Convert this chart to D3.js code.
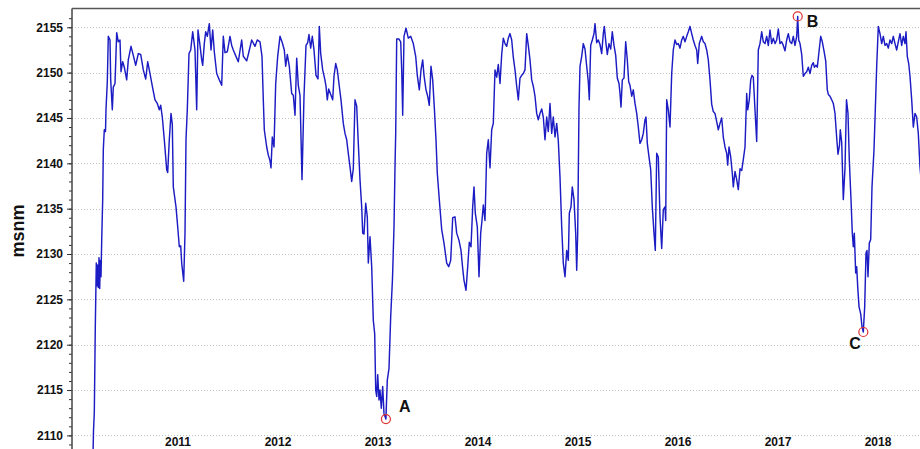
<!DOCTYPE html>
<html>
<head>
<meta charset="utf-8">
<script src="https://cdn.jsdelivr.net/npm/d3@7"></script>
<style>
  html, body { margin: 0; padding: 0; background: #fff; }
  svg { display: block; }
  text { font-family: "Liberation Sans", Arial, Helvetica, sans-serif; }
</style>
</head>
<body>
<svg id="chart" width="920" height="449"></svg>
<script>
// Nivel del embalse (msnm), tiempo en años decimales
const nivel2010 = [
  [2010.145,2105],[2010.155,2110.5],[2010.163,2112.5],[2010.173,2122],[2010.183,2129],
  [2010.190,2126.5],[2010.197,2128.8],[2010.203,2126.3],[2010.210,2129.6],[2010.217,2126.2],
  [2010.223,2129.3],[2010.230,2127.5],[2010.237,2131.5],[2010.247,2136],[2010.253,2141.5],
  [2010.263,2143.7],[2010.275,2143.5],[2010.280,2145.9],[2010.293,2149],[2010.303,2154],
  [2010.320,2153.6],[2010.327,2149.2],[2010.343,2145.9],[2010.353,2148.4],[2010.370,2148.8],
  [2010.387,2154.4],[2010.403,2153.4],[2010.420,2153.6],[2010.430,2150.1],[2010.447,2151.2],
  [2010.463,2150.6],[2010.487,2149.2],[2010.503,2151.4],[2010.530,2152.9],[2010.553,2151.9],
  [2010.577,2150.8],[2010.603,2152.1],[2010.627,2152],[2010.653,2150.3],[2010.677,2149.3],
  [2010.697,2151.2],[2010.720,2149.9],[2010.747,2148.3],[2010.770,2147],[2010.793,2146.6],
  [2010.813,2145.9],[2010.827,2146.4],[2010.843,2145.1],[2010.863,2142.6],[2010.887,2139.3],
  [2010.897,2139],[2010.913,2142.6],[2010.930,2145.5],[2010.943,2144.3],[2010.953,2137.4],
  [2010.980,2135.2],[2010.997,2133]
];
const nivel2011 = [
  [2011.013,2130.8],[2011.027,2130.9],[2011.037,2129],[2011.057,2127],[2011.070,2132.3],
  [2011.080,2142.6],[2011.093,2145.9],[2011.110,2152.1],[2011.127,2152.5],[2011.147,2154.5],
  [2011.170,2152.5],[2011.187,2145.9],[2011.200,2154.7],[2011.220,2153],[2011.237,2151.4],
  [2011.247,2150.8],[2011.263,2153.2],[2011.277,2154.5],[2011.293,2154],[2011.313,2155.4],
  [2011.330,2152.5],[2011.347,2154.7],[2011.363,2152.3],[2011.387,2149.9],[2011.413,2149.2],
  [2011.437,2148.6],[2011.453,2154],[2011.470,2152.2],[2011.493,2152.3],[2011.520,2154],
  [2011.537,2153],[2011.553,2152.5],[2011.587,2151.6],[2011.603,2151.2],[2011.637,2153.6],
  [2011.653,2151.8],[2011.687,2151.3],[2011.703,2152],[2011.737,2153.6],[2011.770,2152.9],
  [2011.793,2153.6],[2011.820,2153.4],[2011.840,2151.8],[2011.853,2147],[2011.863,2143.7],
  [2011.887,2141.8],[2011.903,2140.9],[2011.920,2140.3],[2011.930,2139.5],[2011.943,2142.9],
  [2011.960,2141.8],[2011.977,2148.8],[2011.997,2151.8]
];
const nivel2012 = [
  [2012.020,2154],[2012.043,2153.3],[2012.063,2152.5],[2012.077,2150.7],[2012.093,2152],
  [2012.113,2150.7],[2012.137,2147.7],[2012.153,2147.5],[2012.170,2145.3],[2012.187,2151.6],
  [2012.203,2148.6],[2012.220,2147.5],[2012.240,2138.2],[2012.260,2147.4],[2012.280,2153],
  [2012.297,2153.3],[2012.310,2154.2],[2012.327,2152.7],[2012.343,2154],[2012.360,2152.5],
  [2012.380,2149.7],[2012.400,2149.3],[2012.413,2155.1],[2012.427,2152.1],[2012.447,2150.3],
  [2012.467,2149.3],[2012.480,2148.5],[2012.493,2147],[2012.507,2148.2],[2012.527,2147.6],
  [2012.547,2147],[2012.560,2149.6],[2012.577,2151],[2012.593,2150.3],[2012.613,2148.5],
  [2012.630,2147],[2012.653,2144.4],[2012.670,2143.3],[2012.687,2142.6],[2012.703,2141.1],
  [2012.720,2139.6],[2012.737,2138],[2012.753,2139.4],[2012.770,2147],[2012.787,2146.3],
  [2012.803,2142.2],[2012.820,2138.2],[2012.837,2135.2],[2012.847,2132.3],[2012.860,2132.2],
  [2012.877,2135.6],[2012.893,2134.1],[2012.903,2129],[2012.920,2131.9],[2012.937,2128.6],
  [2012.953,2122.7],[2012.967,2121.2],[2012.977,2115],[2012.987,2114.3],[2012.997,2116.7]
];
const nivel2013 = [
  [2013.010,2113.9],[2013.020,2115],[2013.033,2113],[2013.047,2115.4],[2013.060,2112.4],
  [2013.079,2111.8],[2013.093,2116.1],[2013.110,2117.4],[2013.127,2123.1],[2013.145,2127.3],
  [2013.160,2133],[2013.170,2139.6],[2013.177,2143.3],[2013.187,2153.7],[2013.210,2153.7],
  [2013.227,2153.4],[2013.237,2150.3],[2013.247,2145.3],[2013.260,2154],[2013.280,2154.9],
  [2013.303,2153.8],[2013.327,2154],[2013.353,2153.2],[2013.377,2151.8],[2013.393,2149.7],
  [2013.413,2148.1],[2013.430,2150.3],[2013.447,2151.4],[2013.460,2149.7],[2013.480,2148.1],
  [2013.497,2147.4],[2013.513,2146.4],[2013.530,2150.7],[2013.547,2149.2],[2013.563,2146.2],
  [2013.580,2142.6],[2013.593,2138.9],[2013.613,2136],[2013.637,2132.7],[2013.660,2131.2],
  [2013.687,2129],[2013.707,2128.6],[2013.727,2129.3],[2013.747,2134],[2013.770,2134.1],
  [2013.787,2132.3],[2013.810,2131.5],[2013.830,2130.4],[2013.847,2128.4],[2013.860,2127.1],
  [2013.880,2126],[2013.897,2128.6],[2013.913,2131.3],[2013.930,2130.8],[2013.947,2135.2],
  [2013.960,2137.4],[2013.973,2134.5],[2013.993,2133]
];
const nivel2014 = [
  [2014.010,2127.5],[2014.027,2132.3],[2014.040,2133.7],[2014.053,2135.4],[2014.070,2133.7],
  [2014.087,2141.1],[2014.103,2142.6],[2014.120,2139.5],[2014.137,2143.7],[2014.153,2144.4],
  [2014.170,2150.3],[2014.187,2149.5],[2014.203,2150.9],[2014.220,2148.8],[2014.237,2152],
  [2014.253,2153.8],[2014.270,2153.2],[2014.287,2152.9],[2014.303,2153.8],[2014.320,2154.3],
  [2014.337,2153.6],[2014.353,2151.7],[2014.370,2150.3],[2014.387,2148.5],[2014.403,2147],
  [2014.420,2149.4],[2014.437,2149.7],[2014.453,2149.9],[2014.470,2150.3],[2014.487,2154.3],
  [2014.503,2153],[2014.520,2151.4],[2014.537,2149.2],[2014.553,2148.5],[2014.570,2147.4],
  [2014.587,2145.5],[2014.603,2144.8],[2014.620,2145.5],[2014.637,2146],[2014.653,2145.1],
  [2014.670,2142.6],[2014.687,2145.1],[2014.703,2143.5],[2014.720,2146.6],[2014.737,2143.3],
  [2014.753,2145.1],[2014.770,2142.9],[2014.787,2144.4],[2014.803,2142.5],[2014.820,2138.5],
  [2014.837,2133],[2014.853,2129],[2014.870,2127.5],[2014.887,2130.4],[2014.903,2129.3],
  [2014.913,2134.5],[2014.930,2135.2],[2014.943,2137.4],[2014.960,2136],[2014.977,2132.3],
  [2014.987,2128.2],[2014.997,2132.3]
];
const nivel2015 = [
  [2015.010,2146.2],[2015.020,2150.7],[2015.037,2151.8],[2015.053,2153.2],[2015.070,2152.6],
  [2015.087,2150.7],[2015.103,2149],[2015.113,2147],[2015.127,2153],[2015.143,2153.6],
  [2015.160,2154.3],[2015.170,2155.4],[2015.187,2153.3],[2015.203,2153.6],[2015.220,2153.1],
  [2015.237,2152.1],[2015.253,2154.3],[2015.263,2155.1],[2015.280,2153.2],[2015.293,2152],
  [2015.310,2153.2],[2015.327,2152.6],[2015.343,2154.5],[2015.360,2153],[2015.377,2151.9],
  [2015.393,2149.4],[2015.410,2148.8],[2015.420,2147.7],[2015.430,2146.2],[2015.443,2149.2],
  [2015.460,2149.4],[2015.477,2153.4],[2015.493,2151.4],[2015.507,2149],[2015.520,2148.6],
  [2015.537,2147.4],[2015.553,2148.1],[2015.570,2146.6],[2015.587,2145.5],[2015.603,2144],
  [2015.620,2142.2],[2015.637,2142.6],[2015.653,2143.3],[2015.670,2144.8],[2015.680,2145.1],
  [2015.693,2142.2],[2015.710,2140.7],[2015.727,2139.3],[2015.743,2135.2],[2015.760,2132.3],
  [2015.773,2130.4],[2015.787,2141.1],[2015.803,2140.7],[2015.820,2134.1],[2015.837,2130.6],
  [2015.853,2134.9],[2015.870,2135.2],[2015.877,2133.7],[2015.887,2147],[2015.903,2145.9],
  [2015.920,2144],[2015.937,2149.9],[2015.953,2152.5],[2015.970,2153.6],[2015.987,2153.1]
];
const nivel2016 = [
  [2016.003,2153.2],[2016.020,2152.7],[2016.037,2153.6],[2016.053,2154],[2016.070,2153.4],
  [2016.087,2154],[2016.103,2154.5],[2016.120,2155.1],[2016.137,2154.3],[2016.153,2153.6],
  [2016.170,2153],[2016.187,2152.5],[2016.197,2151],[2016.213,2153.2],[2016.237,2154],
  [2016.253,2153.4],[2016.270,2153.2],[2016.287,2152.5],[2016.303,2151.4],[2016.320,2149.2],
  [2016.337,2146.5],[2016.353,2145.7],[2016.370,2145.5],[2016.387,2144.6],[2016.403,2143.7],
  [2016.420,2144.4],[2016.437,2145],[2016.453,2142.9],[2016.470,2141.8],[2016.487,2141.1],
  [2016.497,2139.8],[2016.510,2141.8],[2016.527,2140.7],[2016.543,2138.9],[2016.553,2137.4],
  [2016.570,2139.1],[2016.587,2138.2],[2016.603,2137.1],[2016.620,2139.4],[2016.637,2139.2],
  [2016.653,2140.4],[2016.670,2141.8],[2016.687,2147.7],[2016.697,2145.9],[2016.713,2147],
  [2016.727,2149.2],[2016.740,2149.7],[2016.753,2149.5],[2016.770,2145.9],[2016.787,2142.4],
  [2016.803,2152.5],[2016.820,2153.2],[2016.837,2154.5],[2016.853,2153.4],[2016.870,2153.2],
  [2016.887,2154],[2016.903,2153],[2016.920,2154.7],[2016.937,2153.2],[2016.953,2153.8],
  [2016.970,2153.2],[2016.987,2153.6]
];
const nivel2017 = [
  [2017.003,2154.8],[2017.020,2153.2],[2017.037,2153.4],[2017.053,2153],[2017.070,2152.4],
  [2017.087,2153.6],[2017.103,2154.3],[2017.120,2153.4],[2017.137,2153.2],[2017.153,2154],
  [2017.170,2153],[2017.187,2154],[2017.197,2156.2],[2017.207,2153.6],[2017.220,2153.2],
  [2017.237,2152],[2017.253,2149.6],[2017.270,2149.9],[2017.287,2150.1],[2017.303,2150.6],
  [2017.320,2149.9],[2017.337,2150.8],[2017.353,2151.1],[2017.363,2150.6],[2017.380,2150.8],
  [2017.393,2150.6],[2017.410,2152.3],[2017.427,2154],[2017.443,2153.4],[2017.460,2152.4],
  [2017.477,2151.3],[2017.493,2148.1],[2017.503,2147.6],[2017.520,2147.4],[2017.537,2147],
  [2017.553,2146.6],[2017.570,2145.5],[2017.587,2142.8],[2017.600,2141],[2017.615,2142],
  [2017.623,2143.7],[2017.637,2142.3],[2017.653,2136],[2017.670,2139.5],[2017.685,2147],
  [2017.700,2145.5],[2017.713,2140.4],[2017.730,2136],[2017.743,2132.3],[2017.753,2130.8],
  [2017.763,2132.3],[2017.777,2127.9],[2017.787,2128.6],[2017.797,2126.4],[2017.810,2124.2],
  [2017.827,2123.4],[2017.840,2122],[2017.853,2121.4],[2017.867,2124.2],[2017.880,2130.1],
  [2017.890,2130.4],[2017.900,2127.5],[2017.913,2131.2],[2017.927,2131.6],[2017.940,2137.4],
  [2017.960,2141.5],[2017.973,2145.9],[2017.987,2150.7]
];
const nivel2018 = [
  [2018.003,2155.1],[2018.020,2154.3],[2018.037,2153.2],[2018.053,2154],[2018.070,2153],
  [2018.087,2153.2],[2018.103,2152.7],[2018.120,2153.6],[2018.137,2153.2],[2018.153,2154],
  [2018.170,2153.2],[2018.187,2152.5],[2018.203,2153.4],[2018.220,2154.3],[2018.237,2153],
  [2018.253,2154],[2018.270,2153.2],[2018.280,2154.5],[2018.293,2151.8],[2018.307,2151],
  [2018.320,2149.6],[2018.337,2147],[2018.353,2144],[2018.370,2145.5],[2018.387,2145.1],
  [2018.403,2143.3],[2018.420,2139.6],[2018.440,2137]
];

// Puntos destacados: A (mínimo 2013), B (máximo 2017), C (mínimo 2017)
const puntos = [
  { id: "A", t: 2013.079, v: 2111.8 },
  { id: "B", t: 2017.197, v: 2156.2 },
  { id: "C", t: 2017.853, v: 2121.4 }
];

const ticksNivel = [2110, 2115, 2120, 2125, 2130, 2135, 2140, 2145, 2150, 2155];
const ticksMenores = d3.range(2108, 2157, 1);
const anios = [2011, 2012, 2013, 2014, 2015, 2016, 2017, 2018];

// ---- dibujo ----
const W = 920, H = 449;
const margin = { left: 72, top: 8.5 };
const plotBottom = 462.6;

const x = d3.scaleLinear().domain([2009.94, 2018.42]).range([margin.left, W]);
const y = d3.scaleLinear().domain([2107, 2157.07]).range([plotBottom, margin.top]);

const svg = d3.select("#chart");
svg.append("rect").attr("width", W).attr("height", H).attr("fill", "#fff");

svg.append("defs").append("clipPath").attr("id", "area")
  .append("rect")
  .attr("x", margin.left).attr("y", margin.top)
  .attr("width", W - margin.left).attr("height", plotBottom - margin.top);

// Rejilla punteada horizontal
svg.append("g").selectAll("line").data(ticksNivel).join("line")
  .attr("x1", margin.left).attr("x2", W)
  .attr("y1", d => Math.round(y(d)) + 0.5).attr("y2", d => Math.round(y(d)) + 0.5)
  .attr("stroke", "#c4c4c4").attr("stroke-width", 1)
  .attr("stroke-dasharray", "1,2");

// Serie de niveles
const serie = [].concat(nivel2010, nivel2011, nivel2012, nivel2013, nivel2014,
                        nivel2015, nivel2016, nivel2017, nivel2018);
const linea = d3.line().x(d => x(d[0])).y(d => y(d[1]));
svg.append("path")
  .datum(serie)
  .attr("clip-path", "url(#area)")
  .attr("fill", "none")
  .attr("stroke", "#1c1cc4")
  .attr("stroke-width", 1.45)
  .attr("stroke-linejoin", "round")
  .attr("d", linea);

// Eje Y: marcas menores y mayores
const ejeMenor = d3.axisLeft(y).tickValues(ticksMenores).tickSize(3).tickFormat("");
const gMenor = svg.append("g").attr("transform", `translate(${margin.left},0)`).call(ejeMenor);
gMenor.select(".domain").remove();
gMenor.selectAll("line").attr("stroke", "#333");

const ejeY = d3.axisLeft(y).tickValues(ticksNivel).tickSize(5).tickPadding(4).tickFormat(d3.format("d"));
const gY = svg.append("g").attr("transform", `translate(${margin.left},0)`).call(ejeY);
gY.select(".domain").remove();
gY.selectAll("line").attr("stroke", "#333");
gY.selectAll("text")
  .attr("font-family", '"Liberation Sans", Arial, sans-serif')
  .attr("font-size", 12).attr("font-weight", "bold").attr("fill", "#111");

// Marco: línea izquierda y superior
svg.append("line")
  .attr("x1", margin.left).attr("x2", margin.left)
  .attr("y1", margin.top).attr("y2", H)
  .attr("stroke", "#444").attr("stroke-width", 1.5);
svg.append("line")
  .attr("x1", margin.left).attr("x2", W)
  .attr("y1", margin.top).attr("y2", margin.top)
  .attr("stroke", "#555").attr("stroke-width", 1.5);

// Etiquetas de años
svg.append("g").selectAll("text").data(anios).join("text")
  .attr("x", d => x(d)).attr("y", 446)
  .attr("text-anchor", "middle")
  .attr("font-size", 12).attr("font-weight", "bold").attr("fill", "#111")
  .text(d => d);

// Título del eje Y
svg.append("text")
  .attr("transform", "translate(24,231) rotate(-90)")
  .attr("text-anchor", "middle")
  .attr("font-size", 18).attr("font-weight", "bold").attr("fill", "#111")
  .text("msnm");

// Puntos A, B, C
const desfase = { A: [13, -7], B: [9, 11], C: [-14, 17] };
svg.append("g").selectAll("circle").data(puntos).join("circle")
  .attr("cx", d => x(d.t)).attr("cy", d => y(d.v)).attr("r", 4.5)
  .attr("fill", "none").attr("stroke", "#e03030").attr("stroke-width", 1.2);
svg.append("g").selectAll("text").data(puntos).join("text")
  .attr("x", d => x(d.t) + desfase[d.id][0])
  .attr("y", d => y(d.v) + desfase[d.id][1])
  .attr("font-size", 16).attr("font-weight", "bold").attr("fill", "#111")
  .text(d => d.id);
</script>
</body>
</html>
